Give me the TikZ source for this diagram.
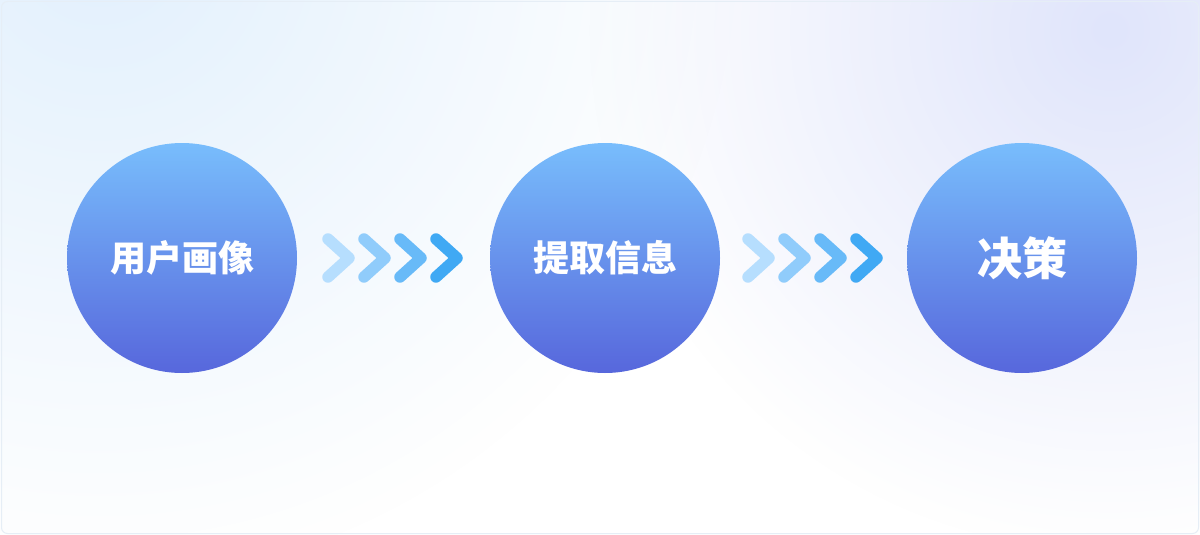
\documentclass[tikz,border=0pt]{standalone}
\usepackage{fontspec}
\newfontfamily\cjk{Noto Sans CJK SC}
\usepackage{xcolor}
\usetikzlibrary{calc,fadings}

\definecolor{bgblue}{HTML}{E2F0FD}
\definecolor{bgpurple}{HTML}{E0E5FB}
\definecolor{framecol}{HTML}{E6EEF6}
\definecolor{circtop}{HTML}{78BDFC}
\definecolor{circbot}{HTML}{5767DC}
\definecolor{chevA}{HTML}{B6DEFE}
\definecolor{chevB}{HTML}{90CCFB}
\definecolor{chevC}{HTML}{68BAF8}
\definecolor{chevD}{HTML}{40A9F4}

\tikzfading[name=glow, inner color=transparent!0, outer color=transparent!100]

\begin{document}
\begin{tikzpicture}[x=1pt,y=-1pt,
  stage/.style={circle,minimum size=230pt,inner sep=0pt,top color=circtop,bottom color=circbot,
    text=white,font=\cjk\bfseries\fontsize{36}{40}\selectfont},
  chev/.style={line width=11.5pt,line cap=round,line join=round}]
% Background
\useasboundingbox (0,0) rectangle (1200,535);
\fill[white] (0,0) rectangle (1200,535);
\begin{scope}
\clip (0,0) rectangle (1200,535);
\fill[bgblue,path fading=glow] (100,-60) circle (640);
\fill[bgpurple,path fading=glow] (1110,30) circle (520);
\end{scope}
\draw[framecol,line width=1pt,rounded corners=6pt] (1.5,1.5) rectangle (1198.5,533.5);

% Stages
\node[stage] (user) at (182,258) {\raisebox{-2pt}{用户画像}};
\node[stage] (info) at (605,258) {\raisebox{-2pt}{提取信息}};
\node[stage,font=\cjk\bfseries\fontsize{45}{50}\selectfont] (decide) at (1022,258) {\raisebox{-2pt}{决策}};

% Chevrons between stages
\coordinate (gap1) at ($(user.east)!0.5!(info.west)$);
\coordinate (gap2) at ($(info.east)!0.5!(decide.west)$);
\foreach \g in {gap1,gap2}
  \foreach \i/\c in {0/chevA,1/chevB,2/chevC,3/chevD}
    \draw[chev,\c] ($(\g)+(-65.5+36*\i,-19)$) -- ++(21,19) -- ++(-21,19);
\end{tikzpicture}
\end{document}
